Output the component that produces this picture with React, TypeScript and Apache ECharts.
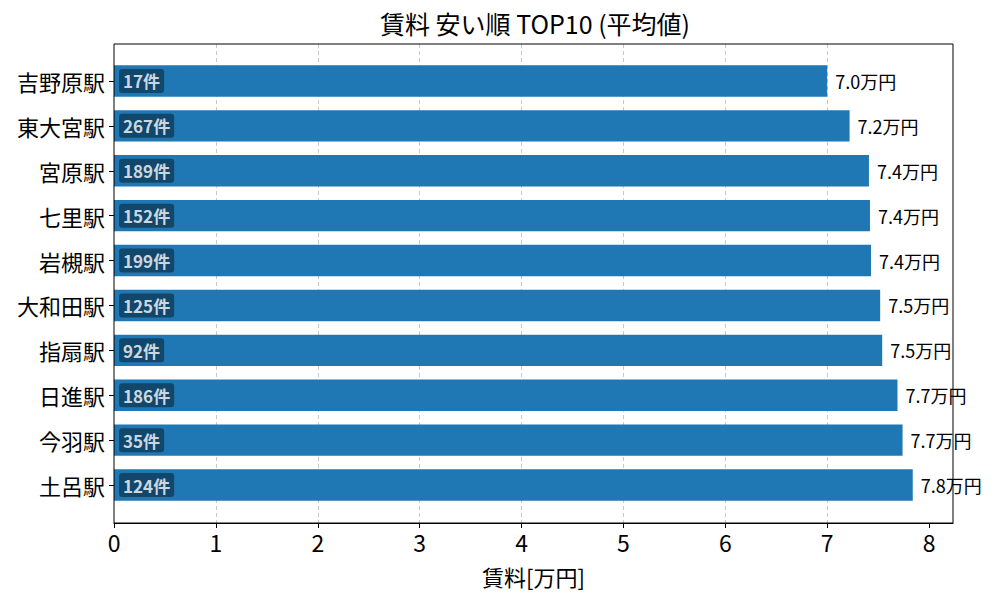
import { useEffect, useRef } from 'react';
import * as echarts from 'echarts';

// station names, top to bottom
const stations = ['吉野原駅', '東大宮駅', '宮原駅', '七里駅', '岩槻駅', '大和田駅', '指扇駅', '日進駅', '今羽駅', '土呂駅'];
// average rent [万円]
const rents = [7.0, 7.22, 7.41, 7.42, 7.43, 7.52, 7.54, 7.69, 7.74, 7.84];
// listing counts
const counts = [17, 267, 189, 152, 199, 125, 92, 186, 35, 124];
const xTicks = [0, 1, 2, 3, 4, 5, 6, 7, 8];

const FONT = '"Noto Sans CJK JP", "Noto Sans", sans-serif';
const X_MAX = 8.235;

const App = () => {
    const chartRef = useRef<HTMLDivElement>(null);

    useEffect(() => {
        document.body.style.margin = '0';
        if (!chartRef.current) return;
        const chart = echarts.init(chartRef.current, undefined, { renderer: 'svg' });

        const option: echarts.EChartsOption = {
            animation: false,
            backgroundColor: '#fff',
            textStyle: { fontFamily: FONT },
            title: {
                text: '賃料 安い順 TOP10 (平均値)',
                left: 530,
                top: 5,
                textAlign: 'center',
                textStyle: { fontFamily: FONT, fontSize: 25, fontWeight: 'normal', color: '#000' }
            },
            grid: [
                // bars: bands sized like matplotlib's category spacing
                { left: 114, right: 47, top: 58.5, height: 449, containLabel: false },
                // frame + x axis
                { left: 114, right: 47, top: 44, bottom: 77, show: true, borderColor: '#000', borderWidth: 1, backgroundColor: 'transparent', z: 5 }
            ],
            xAxis: [
                { gridIndex: 0, type: 'value', min: 0, max: X_MAX, show: false },
                {
                    gridIndex: 1,
                    type: 'value',
                    min: 0,
                    max: X_MAX,
                    interval: 1,
                    name: '賃料[万円]',
                    nameLocation: 'middle',
                    nameGap: 42,
                    nameTextStyle: { fontFamily: FONT, fontSize: 22, color: '#000' },
                    axisLine: { show: true, lineStyle: { color: '#000', width: 1 } },
                    axisTick: { show: true, length: 5, lineStyle: { color: '#000' }, customValues: xTicks },
                    axisLabel: {
                        fontFamily: FONT,
                        fontSize: 23,
                        color: '#000',
                        margin: 7,
                        customValues: xTicks,
                        formatter: (v: number) => String(v)
                    },
                    splitLine: {
                        show: true,
                        showMinLine: false,
                        showMaxLine: false,
                        lineStyle: { color: '#c8c8c8', type: [4, 3], width: 1 }
                    }
                }
            ],
            yAxis: [
                {
                    gridIndex: 0,
                    type: 'category',
                    inverse: true,
                    data: stations,
                    axisLine: { show: false },
                    axisTick: { show: true, alignWithLabel: true, length: 5, lineStyle: { color: '#000' } },
                    axisLabel: { fontFamily: FONT, fontSize: 22, color: '#000', margin: 9 }
                },
                { gridIndex: 1, type: 'value', min: 0, max: 1, show: false }
            ],
            series: [
                {
                    type: 'bar',
                    xAxisIndex: 0,
                    yAxisIndex: 0,
                    data: rents,
                    barWidth: '70%',
                    itemStyle: { color: '#1f77b4' },
                    label: {
                        show: true,
                        position: 'right',
                        distance: 8,
                        fontFamily: FONT,
                        fontSize: 18,
                        color: '#000',
                        padding: [0, 0, 3, 0],
                        formatter: (p: any) => `${(p.value as number).toFixed(1)}万円`
                    },
                    z: 2
                },
                {
                    type: 'scatter',
                    xAxisIndex: 0,
                    yAxisIndex: 0,
                    data: counts.map((c, i) => [0, stations[i], c]),
                    symbolSize: 0.1,
                    itemStyle: { color: 'transparent' },
                    label: {
                        show: true,
                        position: 'right',
                        distance: 5,
                        fontFamily: FONT,
                        fontSize: 17,
                        fontWeight: 'bold',
                        color: '#fff',
                        backgroundColor: 'rgba(0,0,0,0.5)',
                        borderRadius: 3,
                        padding: [4, 4, 3, 4],
                        formatter: (p: any) => `${p.value[2]}件`
                    },
                    z: 3
                }
            ]
        };

        chart.setOption(option);
        return () => chart.dispose();
    }, []);

    return <div ref={chartRef} style={{ width: 1000, height: 600 }} />;
};

export default App;
